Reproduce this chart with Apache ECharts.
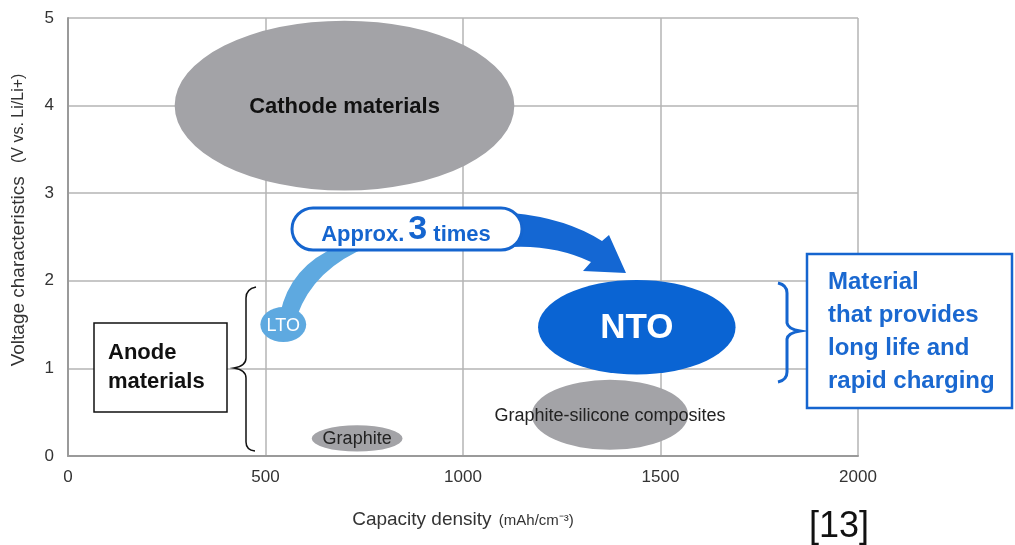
<!DOCTYPE html>
<html>
<head>
<meta charset="utf-8">
<script src="https://cdn.jsdelivr.net/npm/echarts@6/dist/echarts.min.js"></script>
<style>
html,body{margin:0;padding:0;background:#fff;}
#chart{width:1015px;height:545px;}
</style>
</head>
<body>
<div id="chart"></div>
<script>
// ---- data ----
const xTicks = [0, 500, 1000, 1500, 2000];
const yTicks = [0, 1, 2, 3, 4, 5];
const regionNames = ['Cathode materials', 'LTO', 'NTO', 'Graphite-silicone composites', 'Graphite'];
const centerCapacity = [700, 545, 1440, 1372, 732];     // mAh/cm3
const centerVoltage = [4.0, 1.5, 1.47, 0.47, 0.2];     // V vs Li/Li+
const spreadCapacity = [430, 58, 250, 198, 115];        // half-width, mAh/cm3
const spreadVoltage = [0.97, 0.2, 0.54, 0.4, 0.15];    // half-height, V

// ---- styles ----
const fillColors = ['#a3a3a7', '#5ea9e0', '#0a64d3', '#a3a3a7', '#a3a3a7'];
const FONT = '"Liberation Sans", Arial, sans-serif';
const labelStyles = [
  {fill: '#111', fontSize: 22, fontWeight: 'bold'},
  {fill: '#fff', fontSize: 18, fontWeight: 'normal'},
  {fill: '#fff', fontSize: 35, fontWeight: 'bold'},
  {fill: '#222', fontSize: 18, fontWeight: 'normal'},
  {fill: '#222', fontSize: 18, fontWeight: 'normal'}
];
const BLUE = '#1565cf';

const seriesData = regionNames.map((n, i) => ({
  name: n,
  value: [centerCapacity[i], centerVoltage[i], spreadCapacity[i], spreadVoltage[i]]
}));

function ellipsePath(cx, cy, rx, ry) {
  return 'M ' + (cx - rx) + ' ' + cy +
    ' A ' + rx + ' ' + ry + ' 0 1 0 ' + (cx + rx) + ' ' + cy +
    ' A ' + rx + ' ' + ry + ' 0 1 0 ' + (cx - rx) + ' ' + cy + ' Z';
}

// decorative annotation shapes (pixel space)
const decoPaths = [
  {d: 'M 280 314 Q 290 266 338 246 L 370 246 Q 314 268 297 316 Z', fill: '#5ea9e0', stroke: null, lw: 0},
  {d: 'M 512 213 Q 566 218 602 241 L 609 235 L 626 273 L 583 271 L 591 262 Q 555 245 512 247 Z', fill: '#1467d3', stroke: null, lw: 0},
  {d: 'M 256 287 Q 246 289 246 298 L 246 358 Q 246 366 234 368 Q 246 370 246 378 L 246 442 Q 246 450 255 451', fill: null, stroke: '#111', lw: 1.5},
  {d: 'M 778 283 Q 787 285 787 293 L 787 323 Q 788 329 800 331 Q 788 333 787 339 L 787 372 Q 787 380 778 382', fill: null, stroke: BLUE, lw: 3}
];

const chart = echarts.init(document.getElementById('chart'), null, {renderer: 'canvas'});

const option = {
  backgroundColor: '#ffffff',
  animation: false,
  grid: {left: 68, right: 157, top: 18, bottom: 89},
  xAxis: {
    type: 'value', min: xTicks[0], max: xTicks[xTicks.length - 1], interval: 500,
    axisLine: {show: true, lineStyle: {color: '#9a9a9a', width: 2}},
    axisTick: {show: false},
    splitLine: {show: true, lineStyle: {color: '#b4b4b4', width: 1.5}},
    axisLabel: {color: '#333', fontSize: 17, fontFamily: FONT, margin: 13, formatter: v => String(v)},
    name: 'Capacity density {s|(mAh/cm⁻³)}',
    nameLocation: 'middle', nameGap: 54,
    nameTextStyle: {color: '#333', fontSize: 19, fontFamily: FONT,
      rich: {s: {fontSize: 15, fontFamily: FONT, color: '#333', padding: [3, 0, 0, 2]}}}
  },
  yAxis: {
    type: 'value', min: yTicks[0], max: yTicks[yTicks.length - 1], interval: 1,
    axisLine: {show: true, lineStyle: {color: '#9a9a9a', width: 2}},
    axisTick: {show: false},
    splitLine: {show: true, lineStyle: {color: '#b4b4b4', width: 1.5}},
    axisLabel: {color: '#333', fontSize: 17, fontFamily: FONT, margin: 14, formatter: v => String(v)},
    name: 'Voltage characteristics {s|(V vs. Li/Li+)}',
    nameLocation: 'middle', nameGap: 40, nameRotate: 90,
    nameTextStyle: {color: '#333', fontSize: 19, fontFamily: FONT, padding: [0, 0, 0, 34],
      rich: {s: {fontSize: 16, fontFamily: FONT, color: '#333', padding: [0, 0, 0, 8]}}}
  },
  series: [{
    type: 'custom',
    name: 'decor',
    coordinateSystem: 'none',
    data: [0],
    z: 4,
    silent: true,
    renderItem: function () {
      return {
        type: 'group',
        children: decoPaths.map(p => ({
          type: 'path',
          shape: {pathData: p.d},
          style: {fill: p.fill || 'none', stroke: p.stroke || 'none', lineWidth: p.lw}
        }))
      };
    }
  }, {
    type: 'custom',
    name: 'materials',
    coordinateSystem: 'cartesian2d',
    data: seriesData,
    z: 3,
    renderItem: function (params, api) {
      const i = params.dataIndex;
      const c = api.coord([api.value(0), api.value(1)]);
      const s = api.size([api.value(2), api.value(3)]);
      return {
        type: 'group',
        children: [
          {type: 'path', shape: {pathData: ellipsePath(c[0], c[1], s[0], s[1])},
            style: {fill: fillColors[i]}},
          {type: 'text', x: c[0], y: c[1] + 1,
            style: {text: regionNames[i], fill: labelStyles[i].fill, fontSize: labelStyles[i].fontSize,
              fontWeight: labelStyles[i].fontWeight, fontFamily: FONT,
              align: 'center', verticalAlign: 'middle'}}
        ]
      };
    }
  }],
  graphic: [
    {type: 'rect', z: 21, shape: {x: 292, y: 208, width: 230, height: 42, r: 21},
      style: {fill: '#fff', stroke: BLUE, lineWidth: 3}},
    {type: 'text', z: 22, x: 406, y: 230,
      style: {text: '{a|Approx.}{b|3}{a| times}', align: 'center', verticalAlign: 'middle',
        rich: {
          a: {fontSize: 22, fontWeight: 'bold', fill: BLUE, color: BLUE, fontFamily: FONT, padding: [9, 0, 0, 0]},
          b: {fontSize: 34, fontWeight: 'bold', fill: BLUE, color: BLUE, fontFamily: FONT, padding: [0, 0, 0, 4]}
        }}},
    {type: 'rect', z: 20, shape: {x: 94, y: 323, width: 133, height: 89},
      style: {fill: '#fff', stroke: '#111', lineWidth: 1.5}},
    {type: 'text', z: 21, x: 108, y: 338,
      style: {text: 'Anode\nmaterials', fill: '#111', fontSize: 22, fontWeight: 'bold', fontFamily: FONT,
        lineHeight: 29, align: 'left', verticalAlign: 'top'}},
    {type: 'rect', z: 20, shape: {x: 807, y: 254, width: 205, height: 154},
      style: {fill: '#fff', stroke: BLUE, lineWidth: 2.5}},
    {type: 'text', z: 21, x: 828, y: 265.5,
      style: {text: 'Material\nthat provides\nlong life and\nrapid charging', fill: '#1a68d0',
        fontSize: 24, fontWeight: 'bold', fontFamily: FONT, lineHeight: 33, align: 'left', verticalAlign: 'top'}},
    {type: 'text', z: 20, x: 839, y: 527,
      style: {text: '[13]', fill: '#111', fontSize: 36, fontFamily: FONT, align: 'center', verticalAlign: 'middle'}}
  ]
};
chart.setOption(option);
</script>
</body>
</html>
